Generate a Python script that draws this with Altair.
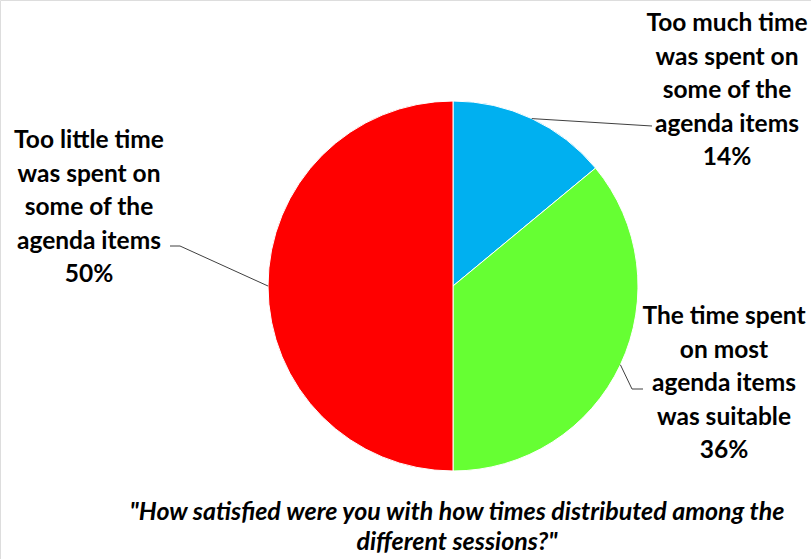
import math
import altair as alt
import pandas as pd

# ---- data ----
categories = [
    "Too much time was spent on some of the agenda items",
    "The time spent on most agenda items was suitable",
    "Too little time was spent on some of the agenda items",
]
values = [14, 36, 50]
label_lines = [
    "Too much time\nwas spent on\nsome of the\nagenda items\n14%",
    "The time spent\non most\nagenda items\nwas suitable\n36%",
    "Too little time\nwas spent on\nsome of the\nagenda items\n50%",
]
colors = ["#00B0F0", "#66FF33", "#FF0000"]
title_lines = [
    '"How satisfied were you with how times distributed among the',
    'different sessions?"',
]

# ---- layout (pixels) ----
W, H = 811, 559
CX, CY, R = 453, 286, 185
label_pos = [(727, 31), (724, 324), (89, 148)]          # label anchor (first-line baseline)
leader_elbow = [(652, 126), (632, 389), (180, 246)]
leader_end = [(652, 126), (643, 389), (170, 246)]
title_y = [520, 550]
FONT = "Lato"

pie_df = pd.DataFrame({"category": categories, "value": values, "order": list(range(len(values)))})

# leader lines start on the pie edge at each slice's mid angle
rows = []
start = 0.0
for i, v in enumerate(values):
    mid = (start + v / 2) / sum(values) * 2 * math.pi
    start += v
    sx, sy = CX + R * math.sin(mid), CY - R * math.cos(mid)
    for k, (px, py) in enumerate([(sx, sy), leader_elbow[i], leader_end[i]]):
        rows.append({"id": i, "k": k, "px": px, "py": py})
lead_df = pd.DataFrame(rows)

lab_df = pd.DataFrame({
    "text": label_lines,
    "px": [p[0] for p in label_pos],
    "py": [p[1] for p in label_pos],
})

pie = alt.Chart(pie_df).mark_arc(radius=R, stroke="white", strokeWidth=1).encode(
    theta=alt.Theta("value:Q", stack=True),
    color=alt.Color("category:N", scale=alt.Scale(domain=categories, range=colors), legend=None),
    order=alt.Order("order:Q"),
    x=alt.value(CX),
    y=alt.value(CY),
)

leaders = alt.Chart(lead_df).mark_line(color="#404040", strokeWidth=1).encode(
    x=alt.X("px:Q", scale=None, axis=None),
    y=alt.Y("py:Q", scale=None, axis=None),
    detail="id:N",
    order="k:Q",
)

labels = alt.Chart(lab_df).mark_text(
    font=FONT, fontSize=24.5, fontWeight="bold", color="black",
    align="center", baseline="alphabetic", lineBreak="\n", lineHeight=33.5,
).encode(
    x=alt.X("px:Q", scale=None, axis=None),
    y=alt.Y("py:Q", scale=None, axis=None),
    text="text:N",
)

title_df = pd.DataFrame({"t": title_lines, "py": title_y})
title = alt.Chart(title_df).mark_text(
    font=FONT, fontSize=25, fontWeight="bold", fontStyle="italic", color="black",
    align="center", baseline="alphabetic",
).encode(
    x=alt.value(457),
    y=alt.Y("py:Q", scale=None, axis=None),
    text="t:N",
)

chart = alt.layer(pie, leaders, labels, title).properties(
    width=W, height=H, padding=0, autosize=alt.AutoSizeParams(type="none")
).configure_view(stroke=None).configure(background="white")

chart.save("out.html", embed_options={"renderer": "svg", "actions": False})
